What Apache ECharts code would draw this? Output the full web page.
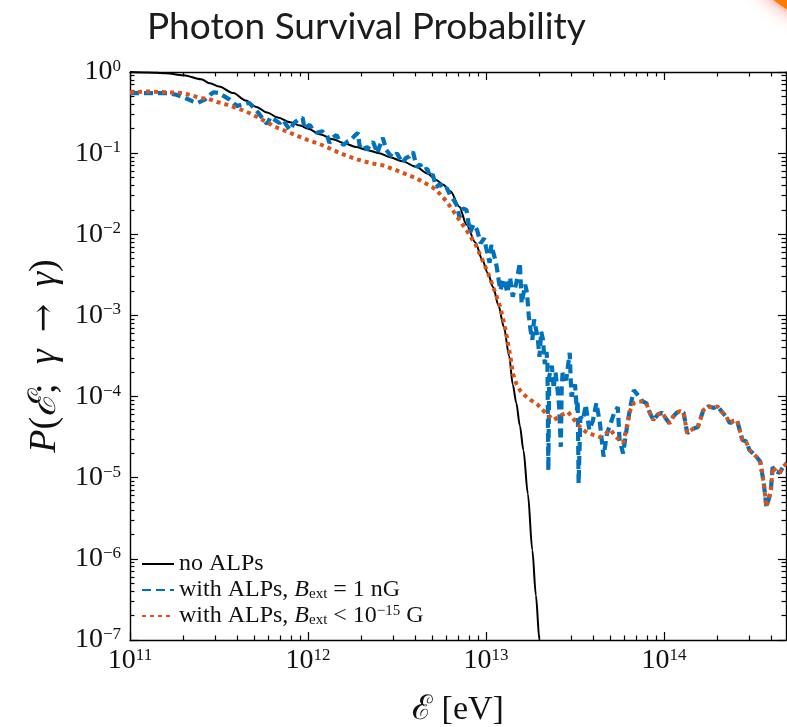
<!DOCTYPE html>
<html>
<head>
<meta charset="utf-8">
<script src="https://cdn.jsdelivr.net/npm/echarts@6/dist/echarts.min.js"></script>
<style>
  html, body { margin: 0; padding: 0; background: #fff; }
  #chart { width: 787px; height: 727px; }
</style>
</head>
<body>
<div id="chart"></div>
<script>
// Axes work in decades: x = log10(E / eV), y = log10(P)
const energyMinExp = 11;
const energyMaxExp = 14.685;
const probMinExp = -7;
const probMaxExp = 0;
const xMajorExps = [11, 12, 13, 14];
const yMajorExps = [0, -1, -2, -3, -4, -5, -6, -7];

const seriesNames = [
  'no ALPs',
  'with ALPs, B_ext = 1 nG',
  'with ALPs, B_ext < 1e-15 G'
];

// Survival probability without ALPs: [log10 E, log10 P]
const noAlpsCurve = [
  [11.00, 0.00], [11.10, -0.005], [11.20, -0.015], [11.30, -0.04], [11.40, -0.09],
  [11.45, -0.14], [11.50, -0.18], [11.58, -0.26], [11.65, -0.35], [11.71, -0.43],
  [11.77, -0.50], [11.83, -0.56], [11.90, -0.62], [11.955, -0.66], [12.00, -0.70],
  [12.07, -0.77], [12.14, -0.83], [12.20, -0.875], [12.27, -0.925], [12.33, -0.96],
  [12.40, -1.00], [12.46, -1.05], [12.53, -1.10], [12.61, -1.17], [12.67, -1.25],
  [12.72, -1.33], [12.76, -1.39], [12.80, -1.47], [12.85, -1.66], [12.89, -1.88],
  [12.94, -2.10], [12.98, -2.32], [13.01, -2.48], [13.04, -2.65], [13.07, -2.88],
  [13.10, -3.14], [13.13, -3.50], [13.15, -3.85], [13.17, -4.08], [13.19, -4.36],
  [13.21, -4.66], [13.235, -5.20], [13.26, -5.89], [13.28, -6.45], [13.30, -7.00],
  [13.31, -7.30]
];

// With ALPs, B_ext = 1 nG (below ~7e13 eV)
const alpsNanoGaussCurve = [
  [11.00, -0.26], [11.10, -0.26], [11.21, -0.26], [11.26, -0.28], [11.30, -0.31],
  [11.35, -0.36], [11.38, -0.38], [11.42, -0.34], [11.45, -0.28], [11.47, -0.25],
  [11.50, -0.26], [11.53, -0.30], [11.56, -0.34], [11.60, -0.42], [11.63, -0.40],
  [11.67, -0.38], [11.69, -0.43], [11.72, -0.50], [11.75, -0.59], [11.77, -0.64],
  [11.79, -0.555], [11.82, -0.60], [11.84, -0.63], [11.86, -0.59], [11.88, -0.66],
  [11.90, -0.715], [11.92, -0.63], [11.95, -0.58], [11.97, -0.565], [11.98, -0.70],
  [12.01, -0.65], [12.03, -0.72], [12.05, -0.75], [12.08, -0.73], [12.11, -0.80],
  [12.12, -0.875], [12.14, -0.81], [12.16, -0.775], [12.18, -0.86], [12.20, -0.90],
  [12.22, -0.86], [12.24, -0.84], [12.26, -0.79], [12.28, -0.75], [12.29, -0.91],
  [12.31, -0.88], [12.33, -0.96], [12.35, -0.90], [12.365, -0.86], [12.39, -1.00],
  [12.40, -0.93], [12.42, -0.81], [12.44, -0.96], [12.46, -1.02], [12.48, -1.05],
  [12.50, -1.00], [12.53, -1.12], [12.55, -1.06], [12.57, -1.04], [12.59, -0.985],
  [12.61, -1.17], [12.63, -1.14], [12.65, -1.21], [12.67, -1.19], [12.685, -1.29],
  [12.70, -1.26], [12.72, -1.42], [12.74, -1.38], [12.76, -1.45], [12.78, -1.43],
  [12.80, -1.53], [12.82, -1.58], [12.84, -1.66], [12.85, -1.79], [12.87, -1.68],
  [12.89, -1.70], [12.91, -1.98], [12.93, -1.88], [12.95, -1.95], [12.97, -2.11],
  [12.99, -2.05], [13.00, -2.16], [13.02, -2.35], [13.03, -2.13], [13.05, -2.30],
  [13.06, -2.40], [13.07, -2.55], [13.08, -2.69], [13.10, -2.55], [13.12, -2.72],
  [13.135, -2.53], [13.15, -2.77], [13.17, -2.60], [13.19, -2.35], [13.20, -2.85],
  [13.22, -2.62], [13.23, -2.72], [13.24, -3.00], [13.25, -3.18], [13.26, -3.30],
  [13.27, -3.05], [13.29, -3.27], [13.30, -3.51], [13.31, -3.20], [13.32, -3.30],
  [13.33, -3.60], [13.34, -3.45], [13.345, -3.59], [13.35, -4.91], [13.355, -3.75],
  [13.37, -3.62], [13.38, -3.90], [13.39, -3.70], [13.40, -3.88], [13.41, -4.10],
  [13.42, -4.62], [13.425, -3.90], [13.43, -3.71], [13.45, -3.80], [13.47, -3.46],
  [13.475, -3.75], [13.48, -4.00], [13.50, -3.85], [13.51, -4.17], [13.515, -4.05],
  [13.52, -5.07], [13.53, -4.25], [13.545, -4.29], [13.56, -4.10], [13.58, -4.41],
  [13.60, -4.30], [13.62, -4.08], [13.64, -4.33], [13.66, -4.74], [13.68, -4.45],
  [13.70, -4.33], [13.72, -4.20], [13.74, -4.13], [13.75, -4.53], [13.77, -4.70],
  [13.79, -4.40], [13.81, -4.13], [13.83, -3.92], [13.86, -4.00]
];

// With ALPs, B_ext < 1e-15 G (below ~7e13 eV)
const alpsWeakFieldCurve = [
  [11.00, -0.25], [11.10, -0.24], [11.21, -0.25], [11.30, -0.26], [11.35, -0.29],
  [11.39, -0.32], [11.44, -0.33], [11.49, -0.37], [11.54, -0.40], [11.58, -0.43],
  [11.62, -0.46], [11.67, -0.505], [11.72, -0.56], [11.77, -0.62], [11.81, -0.67],
  [11.86, -0.715], [11.91, -0.76], [11.955, -0.80], [12.00, -0.84], [12.05, -0.875],
  [12.10, -0.92], [12.14, -0.96], [12.19, -1.01], [12.24, -1.05], [12.28, -1.08],
  [12.33, -1.11], [12.37, -1.13], [12.42, -1.15], [12.47, -1.19], [12.52, -1.23],
  [12.56, -1.27], [12.61, -1.31], [12.65, -1.36], [12.70, -1.42], [12.74, -1.50],
  [12.78, -1.60], [12.83, -1.76], [12.89, -1.95], [12.94, -2.12], [12.98, -2.32],
  [13.01, -2.47], [13.04, -2.65], [13.06, -2.77], [13.08, -2.90], [13.10, -3.08],
  [13.12, -3.30], [13.14, -3.55], [13.15, -3.71], [13.17, -3.84], [13.19, -3.92],
  [13.22, -3.99], [13.25, -4.04], [13.29, -4.10], [13.32, -4.17], [13.35, -4.23],
  [13.38, -4.29], [13.42, -4.23], [13.46, -4.19], [13.49, -4.27], [13.51, -4.33],
  [13.54, -4.40], [13.57, -4.45], [13.60, -4.47], [13.64, -4.50], [13.67, -4.46],
  [13.70, -4.41], [13.73, -4.50], [13.77, -4.57], [13.79, -4.38], [13.81, -4.17],
  [13.83, -4.08], [13.86, -4.06]
];

// Above ~7e13 eV both ALP scenarios coincide
const alpsSharedTail = [
  [13.88, -4.06], [13.90, -4.08], [13.92, -4.20], [13.94, -4.29], [13.965, -4.22],
  [13.99, -4.20], [14.01, -4.27], [14.03, -4.33], [14.05, -4.25], [14.07, -4.20],
  [14.09, -4.18], [14.11, -4.20], [14.13, -4.45], [14.16, -4.40], [14.19, -4.375],
  [14.22, -4.17], [14.25, -4.12], [14.28, -4.14], [14.30, -4.12], [14.33, -4.20],
  [14.35, -4.25], [14.37, -4.33], [14.39, -4.30], [14.41, -4.29], [14.44, -4.535],
  [14.46, -4.55], [14.48, -4.66], [14.50, -4.70], [14.52, -4.745], [14.54, -4.80],
  [14.56, -5.065], [14.575, -5.36], [14.59, -5.25], [14.60, -5.15], [14.61, -4.87],
  [14.63, -4.92], [14.65, -4.94], [14.67, -4.86], [14.69, -4.82]
];

const SERIF = "'Liberation Serif', 'DejaVu Serif', serif";
const MINUS = '\u2212';

// Minor ticks at 2..9 within every decade
function minorTickExps(lo, hi) {
  const out = [];
  for (let d = Math.floor(lo); d < Math.ceil(hi); d++) {
    for (let k = 2; k <= 9; k++) {
      const v = d + Math.log10(k);
      if (v > lo && v < hi) out.push(v);
    }
  }
  return out;
}

const frameLine = { color: '#000', width: 1.4 };
const powerRich = {
  b: { fontFamily: SERIF, fontSize: 28, lineHeight: 28, color: '#111' },
  s: { fontFamily: SERIF, fontSize: 17, lineHeight: 17, color: '#111', verticalAlign: 'top' }
};
const powerLabel = v => '{b|10}{s|' + (v < 0 ? MINUS + (-v) : v) + '}';

function frameAxis(lo, hi, position, ticks, tickLen, withLine) {
  return {
    type: 'value', min: lo, max: hi, position: position,
    axisLine: { show: withLine, onZero: false, lineStyle: frameLine },
    axisTick: { show: true, inside: true, length: tickLen, customValues: ticks, lineStyle: { color: '#000', width: 1.2 } },
    axisLabel: { show: false },
    splitLine: { show: false },
    minorTick: { show: false }
  };
}

const xMinor = minorTickExps(energyMinExp, energyMaxExp);
const yMinor = minorTickExps(probMinExp, probMaxExp);

const xMain = frameAxis(energyMinExp, energyMaxExp, 'bottom', xMajorExps, 8, true);
xMain.axisLabel = {
  show: true, customValues: xMajorExps, margin: 7,
  formatter: powerLabel, rich: powerRich
};
xMain.name = '{e|\u2130}{t| [eV]}';
xMain.nameLocation = 'middle';
xMain.nameGap = 52;
xMain.nameTextStyle = {
  rich: {
    e: { fontFamily: SERIF, fontSize: 34, lineHeight: 36, color: '#111' },
    t: { fontFamily: SERIF, fontSize: 34, lineHeight: 36, color: '#111' }
  }
};

const yMain = frameAxis(probMinExp, probMaxExp, 'left', yMajorExps, 8, true);
yMain.axisLabel = {
  show: true, customValues: yMajorExps, margin: 9,
  formatter: powerLabel, rich: powerRich
};
yMain.name = '{i|P}{t|(}{i|\u2130}{t|;\u2002}{i|\u03b3}{a|\u2002\u2192\u2002}{i|\u03b3}{t|)}';
yMain.nameLocation = 'middle';
yMain.nameGap = 64;
yMain.nameTextStyle = {
  rich: {
    i: { fontFamily: SERIF, fontSize: 38, lineHeight: 38, fontStyle: 'italic', color: '#111' },
    t: { fontFamily: SERIF, fontSize: 38, lineHeight: 38, color: '#111' },
    a: { fontFamily: "'DejaVu Serif', serif", fontSize: 34, lineHeight: 38, color: '#111' }
  }
};

const legendText = {
  'no ALPs': '{t|no ALPs}',
  'with ALPs, B_ext = 1 nG': '{t|with ALPs, }{i|B}{sub|ext}{t| = 1 nG}',
  'with ALPs, B_ext < 1e-15 G': '{t|with ALPs, }{i|B}{sub|ext}{t| < 10}{sup|' + MINUS + '15}{t| G}'
};

const chart = echarts.init(document.getElementById('chart'), null, { renderer: 'canvas' });
chart.setOption({
  animation: false,
  backgroundColor: '#fff',
  title: {
    text: 'Photon Survival Probability',
    left: 147, top: 9, padding: 0,
    textStyle: { fontFamily: 'Lato', fontSize: 37, fontWeight: 'normal', color: '#1c1c1c' }
  },
  graphic: [{
    type: 'circle', silent: true, z: 100,
    shape: { cx: 860, cy: -110, r: 140 },
    style: { fill: '#ff7a00', shadowBlur: 18, shadowColor: 'rgba(255,90,70,0.7)' }
  }],
  grid: { left: 130, right: 1, top: 72, bottom: 87, outerBoundsMode: 'none' },
  xAxis: [
    xMain,
    frameAxis(energyMinExp, energyMaxExp, 'bottom', xMinor, 4.5, false),
    frameAxis(energyMinExp, energyMaxExp, 'top', xMajorExps, 8, true),
    frameAxis(energyMinExp, energyMaxExp, 'top', xMinor, 4.5, false)
  ],
  yAxis: [
    yMain,
    frameAxis(probMinExp, probMaxExp, 'left', yMinor, 4.5, false),
    frameAxis(probMinExp, probMaxExp, 'right', yMajorExps, 8, true),
    frameAxis(probMinExp, probMaxExp, 'right', yMinor, 4.5, false)
  ],
  legend: {
    orient: 'vertical', left: 141, top: 552, padding: 0,
    itemWidth: 32, itemHeight: 14, itemGap: 2,
    data: seriesNames,
    formatter: name => legendText[name],
    itemStyle: { opacity: 0 },
    textStyle: {
      color: '#111',
      rich: {
        t: { fontFamily: SERIF, fontSize: 24, lineHeight: 24, color: '#111' },
        i: { fontFamily: SERIF, fontSize: 24, lineHeight: 24, fontStyle: 'italic', color: '#111' },
        sub: { fontFamily: SERIF, fontSize: 15, lineHeight: 15, verticalAlign: 'bottom', color: '#111' },
        sup: { fontFamily: SERIF, fontSize: 15, lineHeight: 15, verticalAlign: 'top', color: '#111' }
      }
    }
  },
  series: [
    {
      name: seriesNames[0], type: 'line', data: noAlpsCurve,
      symbol: 'none', smooth: 0.3, smoothMonotone: 'x', z: 2,
      lineStyle: { color: '#000', width: 2 }, itemStyle: { color: '#000' }
    },
    {
      name: seriesNames[1], type: 'line', data: alpsNanoGaussCurve.concat(alpsSharedTail),
      symbol: 'none', z: 3,
      lineStyle: { color: '#0072BD', width: 4.2, type: [9, 5] }, itemStyle: { color: '#0072BD' }
    },
    {
      name: seriesNames[2], type: 'line', data: alpsWeakFieldCurve.concat(alpsSharedTail),
      symbol: 'none', z: 4,
      lineStyle: { color: '#D95319', width: 4, type: [4, 4] }, itemStyle: { color: '#D95319' }
    }
  ]
});
</script>
</body>
</html>
